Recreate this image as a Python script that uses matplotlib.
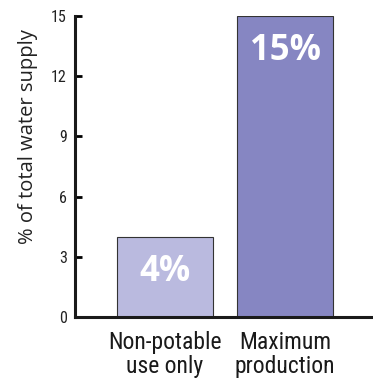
import matplotlib
matplotlib.use("Agg")
import matplotlib.pyplot as plt
from matplotlib import font_manager as fm

categories = ["Non-potable\nuse only", "Maximum\nproduction"]
values = [4, 15]
labels = ["4%", "15%"]
yticks = [0, 3, 6, 9, 12, 15]
colors = ["#babadf", "#8686c2"]

names = {f.name for f in fm.fontManager.ttflist}
narrow = next((n for n in ["Liberation Sans Narrow", "DejaVu Sans Condensed",
                           "Roboto Condensed", "Roboto"] if n in names), "DejaVu Sans")

fig = plt.figure(figsize=(3.73, 3.85), dpi=100)
ax = fig.add_axes([75 / 373, 68 / 385, 298 / 373, 301 / 385])

x = range(len(values))
ax.bar(x, values, width=0.8, color=colors, edgecolor="#333333", linewidth=0.8, zorder=2)
for xi, v, lab in zip(x, values, labels):
    ax.text(xi, v - 1.75, lab, ha="center", va="center", color="white",
            fontsize=25, fontweight="bold", family="Open Sans", zorder=3)

ax.set_xlim(-0.75, 1.733)
ax.set_ylim(0, 15)
ax.set_yticks(yticks)
ax.set_xticks(list(x))
ax.set_xticklabels(categories, fontsize=17, family=narrow, linespacing=1.05,
                   color="#1a1a1a")
for t in ax.get_yticklabels():
    t.set_family(narrow)
    t.set_fontsize(11.5)
    t.set_color("#222222")
ax.tick_params(axis="y", direction="in", length=5, width=2, pad=6)
ax.tick_params(axis="x", length=0, pad=10)
ax.set_ylabel("% of total water supply", fontsize=14.5, family="Open Sans",
              color="#222222")
ax.yaxis.set_label_coords(-0.125, 0.598)

for s in ["top", "right"]:
    ax.spines[s].set_visible(False)
for s in ["left", "bottom"]:
    ax.spines[s].set_linewidth(2.2)
    ax.spines[s].set_color("#1a1a1a")
ax.spines["left"].set_zorder(4)

fig.savefig("out.png", dpi=100)
